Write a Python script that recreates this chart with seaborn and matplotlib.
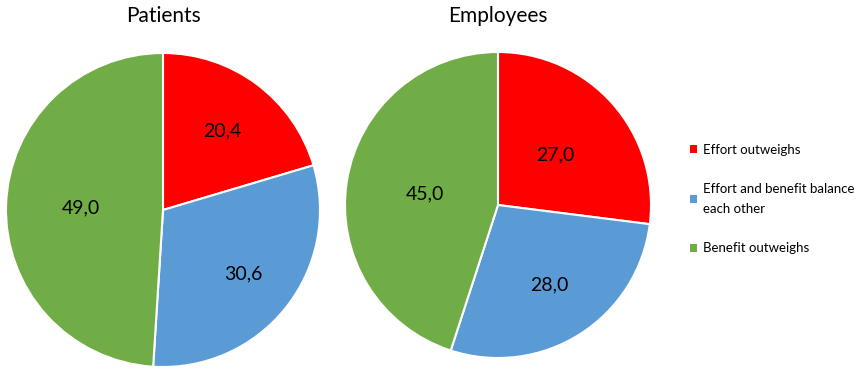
import matplotlib
matplotlib.use("Agg")
import matplotlib.pyplot as plt
import seaborn as sns
from matplotlib.patches import Patch

categories = ["Effort outweighs", "Effort and benefit balance\neach other", "Benefit outweighs"]
groups = ["Patients", "Employees"]
patients = [20.4, 30.6, 49.0]
employees = [27.0, 28.0, 45.0]
colors = ["#FF0000", "#5B9BD5", "#70AD47"]

sns.set_theme(style="white")
plt.rcParams['font.family'] = ['Lato', 'DejaVu Sans']
plt.rcParams['text.color'] = 'black'

W, H = 867, 376
fig = plt.figure(figsize=(W / 100, H / 100), dpi=100)

def add_pie(cx, cy, r, values, title, dists):
    ax = fig.add_axes([(cx - r) / W, (H - cy - r) / H, 2 * r / W, 2 * r / H])
    labels = [f"{v:.1f}".replace(".", ",") for v in values]
    wedges, texts = ax.pie(values, colors=colors, startangle=90, counterclock=False,
                           labels=labels, labeldistance=1.0,
                           wedgeprops=dict(edgecolor="white", linewidth=1.5),
                           textprops=dict(fontsize=14, ha="center", va="center", color="black"))
    for t, d in zip(texts, dists):
        x, y = t.get_position()
        t.set_position((x * d, y * d))
        t.set_ha("center")
        t.set_va("center")
    ax.set_xlim(-1.0, 1.0)
    ax.set_ylim(-1.0, 1.0)
    ax.set_aspect("equal")
    fig.text(cx / W, 1 - 16 / H, title, ha="center", va="center", fontsize=15, color="black")
    return wedges

add_pie(163, 210, 157, patients, groups[0], [0.63, 0.65, 0.52])
add_pie(498, 205, 153, employees, groups[1], [0.5, 0.62, 0.48])

handles = [Patch(facecolor=c, edgecolor="none") for c in colors]
leg = fig.legend(handles, categories, loc="center left", bbox_to_anchor=(678 / W, 1 - 199 / H),
                 frameon=False, fontsize=9.5, handlelength=0.55, handleheight=0.55,
                 handletextpad=0.45, labelspacing=2.1)
for t in leg.get_texts():
    t.set_linespacing(1.75)
    t.set_color("black")

fig.savefig("out.png", dpi=100)
